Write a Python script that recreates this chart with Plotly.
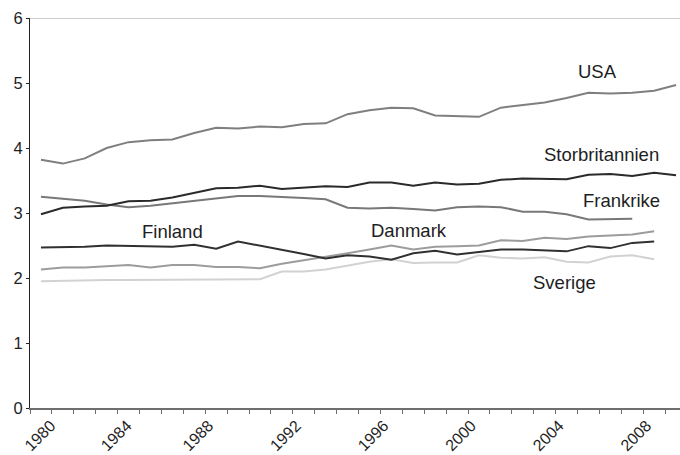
import plotly.graph_objects as go

years = list(range(1980, 2010))

usa = [3.82, 3.76, 3.84, 4.00, 4.09, 4.12, 4.13, 4.23, 4.31, 4.30, 4.33, 4.32, 4.37, 4.38, 4.52,
       4.58, 4.62, 4.61, 4.50, 4.49, 4.48, 4.62, 4.66, 4.70, 4.77, 4.85, 4.84, 4.85, 4.88, 4.97]
storbritannien = [2.98, 3.08, 3.10, 3.11, 3.18, 3.19, 3.24, 3.31, 3.38, 3.39, 3.42, 3.37, 3.39, 3.41, 3.40,
                  3.47, 3.47, 3.42, 3.47, 3.44, 3.45, 3.51, 3.53, 3.52, 3.52, 3.59, 3.60, 3.57, 3.62, 3.58]
frankrike = [3.25, 3.22, 3.19, 3.13, 3.09, 3.11, 3.15, 3.18, 3.23, 3.26, 3.26, 3.25, 3.23, 3.21, 3.08,
             3.07, 3.08, 3.06, 3.04, 3.09, 3.10, 3.09, 3.02, 3.02, 2.98, 2.90, 2.90, 2.91]
finland = [2.47, 2.47, 2.48, 2.50, 2.49, 2.49, 2.48, 2.51, 2.45, 2.56, 2.50, 2.44, 2.37, 2.30, 2.35,
           2.33, 2.28, 2.38, 2.42, 2.36, 2.40, 2.44, 2.44, 2.43, 2.41, 2.49, 2.46, 2.54, 2.56]
danmark = [2.13, 2.16, 2.16, 2.18, 2.20, 2.16, 2.20, 2.20, 2.17, 2.17, 2.15, 2.22, 2.27, 2.32, 2.38,
           2.44, 2.50, 2.44, 2.48, 2.49, 2.50, 2.58, 2.57, 2.62, 2.60, 2.64, 2.66, 2.67, 2.72]
sverige = [1.95, 1.96, 1.96, 1.97, 1.97, 1.97, 1.97, 1.97, 1.97, 1.98, 1.98, 2.10, 2.10, 2.13, 2.19,
           2.25, 2.29, 2.23, 2.24, 2.24, 2.35, 2.31, 2.30, 2.32, 2.25, 2.24, 2.33, 2.35, 2.29]

series = [
    ("USA", usa, "#7f7f7f"),
    ("Storbritannien", storbritannien, "#2a2a2a"),
    ("Frankrike", frankrike, "#787878"),
    ("Finland", finland, "#303030"),
    ("Danmark", danmark, "#9c9c9c"),
    ("Sverige", sverige, "#d2d2d2"),
]

# label positions (data coords)
labels = [
    ("USA", 2005.4, 5.17),
    ("Storbritannien", 2005.6, 3.90),
    ("Frankrike", 2006.5, 3.20),
    ("Finland", 1986.0, 2.72),
    ("Danmark", 1996.8, 2.73),
    ("Sverige", 2003.9, 1.93),
]

tick_labels = ["1980", "1984", "1988", "1992", "1996", "2000", "2004", "2008"]
label_pos = [1980.45, 1983.93, 1987.66, 1991.66, 1995.66, 1999.66, 2003.66, 2007.66]
minor_ticks = [y - 0.5 for y in range(1980, 2011)]

fig = go.Figure()
for name, vals, col in reversed(series):
    fig.add_trace(go.Scatter(x=years[:len(vals)], y=vals, mode="lines", name=name,
                             line=dict(color=col, width=2), showlegend=False))

for text, x, y in labels:
    fig.add_annotation(x=x, y=y, text=text, showarrow=False, xref="x", yref="y",
                       font=dict(family="Liberation Sans, Arial, sans-serif", size=18.5, color="#1e1e1e"))

fig.add_shape(type="line", xref="paper", yref="y", x0=0, x1=1, y0=6, y1=6,
              line=dict(color="#9a9a9a", width=1))

fig.update_layout(
    width=680, height=455,
    margin=dict(l=30, r=0, t=18, b=47),
    paper_bgcolor="white", plot_bgcolor="white",
    font=dict(family="Liberation Sans, Arial, sans-serif", color="#1e1e1e"),
    xaxis=dict(range=[1979.5, 2009.18], tickmode="array", tickvals=label_pos, ticktext=tick_labels,
               tickangle=-45, ticks="", showgrid=False, zeroline=False, automargin=False,
               showline=True, linecolor="#6e6e6e", linewidth=2,
               tickfont=dict(size=16, color="#1e1e1e"),
               minor=dict(tickmode="array", tickvals=minor_ticks, ticks="outside", ticklen=4,
                          tickcolor="#6e6e6e", tickwidth=1, showgrid=False)),
    yaxis=dict(range=[0, 6], tickvals=[0, 1, 2, 3, 4, 5, 6], ticks="outside", ticklen=3,
               tickcolor="#222", showgrid=False, zeroline=False, showline=True, automargin=False,
               linecolor="#222", linewidth=1, tickfont=dict(size=16.5, color="#1e1e1e")),
)

fig.write_html("out.html", config={"displayModeBar": False},
               post_script="document.body.style.margin='0';document.body.style.overflow='hidden';")
